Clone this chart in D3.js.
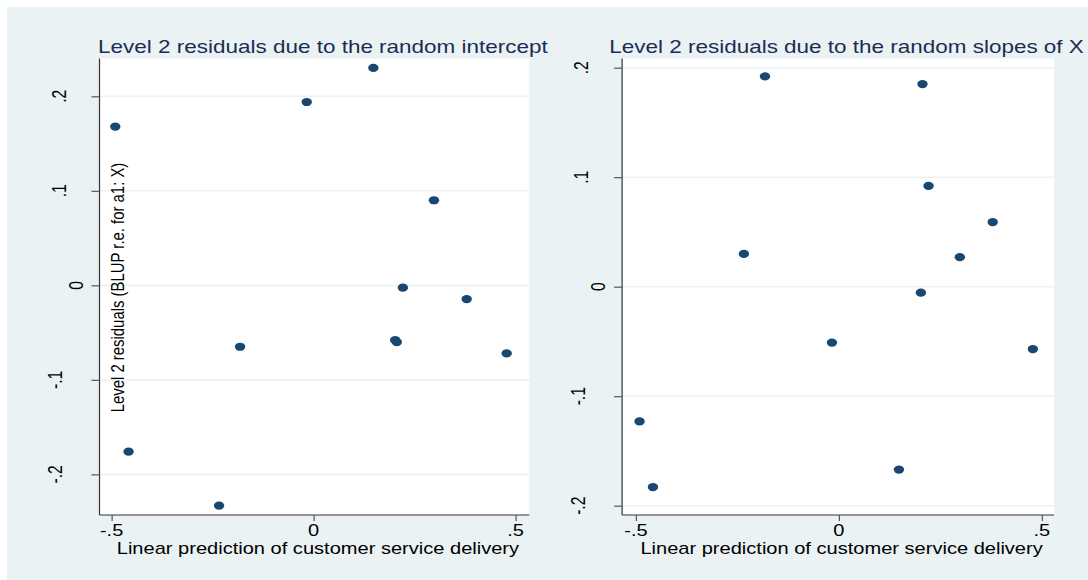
<!DOCTYPE html>
<html>
<head>
<meta charset="utf-8">
<script src="https://cdn.jsdelivr.net/npm/d3@7"></script>
<style>
  html, body { margin: 0; padding: 0; background: #ffffff; }
  svg { display: block; }
  text { font-family: "Liberation Sans", Arial, Helvetica, sans-serif; }
</style>
</head>
<body>
<svg id="chart" width="1088" height="580"></svg>
<script>
// ---- data ----
const linearPrediction = [-0.491, -0.458, -0.234, -0.182, -0.017, 0.148, 0.202, 0.206, 0.221, 0.298, 0.379, 0.478];
const residIntercept   = [0.168, -0.176, -0.233, -0.065, 0.194, 0.230, -0.058, -0.060, -0.0025, 0.090, -0.0145, -0.072];
const residSlope       = [-0.123, -0.183, 0.030, 0.192, -0.051, -0.167, -0.0055, 0.185, 0.092, 0.027, 0.059, -0.057];
const xTicks = [-0.5, 0, 0.5];
const xTickLabels = ["-.5", "0", ".5"];
const yTicks = [-0.2, -0.1, 0, 0.1, 0.2];
const yTickLabels = ["-.2", "-.1", "0", ".1", ".2"];
const titles = ["Level 2 residuals due to the random intercept", "Level 2 residuals due to the random slopes of X"];
const xTitle = "Linear prediction of customer service delivery";
const yTitle = "Level 2 residuals (BLUP r.e. for a1: X)";

// ---- layout ----
const STRETCH = 1.27;       // horizontal stretch seen in the reference
const BG = "#eaf2f3";
const NAVY = "#1a476f";
const svg = d3.select("#chart");

svg.append("rect").attr("x", 7).attr("y", 7).attr("width", 1081).attr("height", 573).attr("fill", BG);

const panels = [
  { ys: residIntercept, title: titles[0], x0: 99.5, x1: 529.3, xDom: [-0.530, 0.534], yDom: [-0.243, 0.240], showYTitle: true },
  { ys: residSlope,     title: titles[1], x0: 622.1, x1: 1054, xDom: [-0.534, 0.530], yDom: [-0.2085, 0.2084], showYTitle: false }
];
const plotTop = 58.5, plotBottom = 515;
const labelOffset = { 1: 17, 2: 33.7, 3: 37.5 };

panels.forEach(p => {
  const g = svg.append("g");
  const x = d3.scaleLinear().domain(p.xDom).range([p.x0, p.x1]);
  const y = d3.scaleLinear().domain(p.yDom).range([plotBottom, plotTop]);

  // plot region
  g.append("rect").attr("x", p.x0).attr("y", plotTop).attr("width", p.x1 - p.x0).attr("height", plotBottom - plotTop).attr("fill", "#ffffff");

  // gridlines
  g.selectAll(".grid").data(yTicks).enter().append("line")
    .attr("x1", p.x0).attr("x2", p.x1)
    .attr("y1", d => y(d)).attr("y2", d => y(d))
    .attr("stroke", BG).attr("stroke-width", 1.6);

  // y axis
  const yAxis = d3.axisLeft(y).tickValues(yTicks).tickSize(8).tickFormat("");
  const ya = g.append("g").attr("transform", `translate(${p.x0},0)`).call(yAxis);
  ya.select(".domain").attr("d", `M0,${plotTop}V${plotBottom}`).attr("stroke", "#333").attr("stroke-width", 1.2);
  ya.selectAll(".tick line").attr("stroke", "#555").attr("stroke-width", 1.2);

  yTicks.forEach((t, i) => {
    const lab = yTickLabels[i];
    g.append("text")
      .attr("transform", `translate(${p.x0 - labelOffset[lab.length]},${y(t)}) scale(${STRETCH},1) rotate(-90)`)
      .attr("text-anchor", "middle").attr("font-size", 15.7).attr("fill", "#000")
      .text(lab);
  });

  // x axis
  const xAxis = d3.axisBottom(x).tickValues(xTicks).tickSize(6).tickFormat("");
  const xa = g.append("g").attr("transform", `translate(0,${plotBottom})`).call(xAxis);
  xa.select(".domain").attr("d", `M${p.x0},0H${p.x1}`).attr("stroke", "#333").attr("stroke-width", 1.2);
  xa.selectAll(".tick line").attr("stroke", "#555").attr("stroke-width", 1.2);

  xTicks.forEach((t, i) => {
    g.append("text")
      .attr("transform", `translate(${x(t)},536) scale(${STRETCH},1)`)
      .attr("text-anchor", "middle").attr("font-size", 15.8).attr("fill", "#000")
      .text(xTickLabels[i]);
  });

  // axis title
  g.append("text")
    .attr("transform", `translate(${(p.x0 + p.x1) / 2 + 3.5},553.5) scale(${STRETCH},1)`)
    .attr("text-anchor", "middle").attr("font-size", 15.8).attr("fill", "#000")
    .text(xTitle);

  if (p.showYTitle) {
    g.append("text")
      .attr("transform", `translate(124,287.5) scale(${STRETCH},1) rotate(-90)`)
      .attr("text-anchor", "middle").attr("font-size", 14.9).attr("fill", "#000")
      .text(yTitle);
  }

  // title
  g.append("text")
    .attr("transform", `translate(${(p.x0 + p.x1) / 2 + 8.5},53) scale(${STRETCH},1)`)
    .attr("text-anchor", "middle").attr("font-size", 17.7).attr("fill", "#1c2d55")
    .text(p.title);

  // points
  g.selectAll(".pt").data(linearPrediction.map((v, i) => [v, p.ys[i]])).enter().append("ellipse")
    .attr("cx", d => x(d[0])).attr("cy", d => y(d[1]))
    .attr("rx", 5.2).attr("ry", 4.1)
    .attr("fill", NAVY);
});
</script>
</body>
</html>
